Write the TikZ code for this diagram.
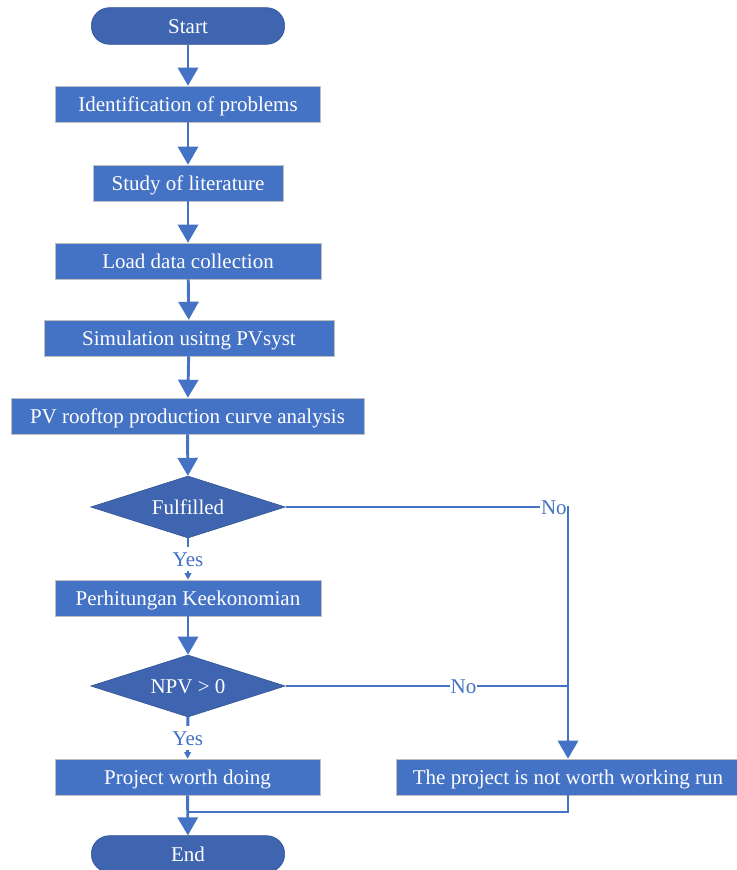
\documentclass[tikz,border=0pt]{standalone}
\usepackage{fontspec}
\setmainfont{Liberation Serif}
\usetikzlibrary{shapes.geometric,arrows.meta}
\definecolor{boxblue}{HTML}{4472C4}
\definecolor{termblue}{HTML}{3F64B0}
\definecolor{termedge}{HTML}{2F528F}
\definecolor{boxedge}{HTML}{BFBFBF}
\tikzset{
  line box/.style={text height=14pt, text depth=3.4pt},
  box/.style={rectangle, fill=boxblue, draw=boxedge, text=white, line box,
    minimum height=27pt, inner sep=0pt},
  term/.style={rectangle, rounded corners=13.5pt, fill=termblue, draw=termedge,
    text=white, line box, minimum width=145pt, minimum height=27.5pt},
  decide/.style={diamond, aspect=3.15, fill=termblue, draw=termedge, text=white,
    line box, minimum width=146pt, minimum height=46.5pt, inner sep=0pt},
  flow/.style={draw=boxblue, line width=2.2pt},
  bigarrow/.style={flow, -{Triangle[width=15pt,length=13.5pt]}},
  smallarrow/.style={flow, -{Triangle[width=5pt,length=5pt]}},
  answer/.style={fill=white, text=boxblue, line box, inner sep=0.5pt},
}
\begin{document}
\begin{tikzpicture}[x=0.75pt, y=-0.75pt, font=\fontsize{15.75}{18}\selectfont]
            \useasboundingbox (0,0) rectangle (736,870);

            \node [term] (start) at (188,26) {Start};
            \node [box, minimum width=199pt] (ident) at (188,104) {Identification of problems};
            \node [box, minimum width=142.5pt] (study) at (188,183) {Study of literature};
            \node [box, minimum width=199.5pt] (load) at (188,261) {Load data collection};
            \node [box, minimum width=217.5pt] (sim) at (189,338) {Simulation usitng PVsyst};
            \node [box, minimum width=264.75pt] (curve) at (187.5,416) {PV rooftop production curve analysis};
            \node [decide] (fulfil) at (188,507) {Fulfilled};
            \node [box, minimum width=199.5pt] (econ) at (188,598) {Perhitungan Keekonomian};
            \node [decide] (npv) at (188,686) {NPV > 0};
            \node [box, minimum width=198.75pt] (worth) at (187.5,777) {Project worth doing};
            \node [box, minimum width=258pt] (notworth) at (568,777) {The project is not worth working run};
            \node [term] (end) at (188,854) {End};
            \coordinate (join) at (188,812);

            \draw [bigarrow] (start) -- (ident);
            \draw [bigarrow] (ident) -- (study);
            \draw [bigarrow] (study) -- (load);
            \draw [bigarrow] (load) -- (sim);
            \draw [bigarrow] (sim) -- (curve);
            \draw [bigarrow] (curve) -- (fulfil);
            \draw [smallarrow] (fulfil) -- node [answer] {Yes} (econ);
            \draw [bigarrow] (econ) -- (npv);
            \draw [smallarrow] (npv) -- node [answer] {Yes} (worth);
            \draw [bigarrow] (fulfil.east) -- node [answer, pos=0.95] {No} (fulfil.east -| notworth.north) -- (notworth.north);
            \draw [flow] (npv.east) -- node [answer, pos=0.63] {No} (npv.east -| notworth.north);
            \draw [flow] (notworth.south) |- (join);
            \draw [bigarrow] (worth) -- (end);
        \end{tikzpicture}
\end{document}
